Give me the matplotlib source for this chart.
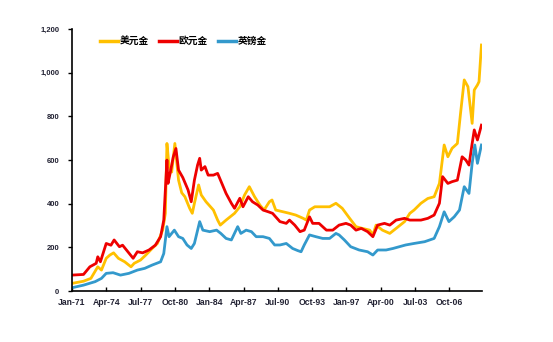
import matplotlib
matplotlib.use('Agg')
import matplotlib.pyplot as plt
from matplotlib.ticker import FixedLocator, FuncFormatter

plt.rcParams['font.family'] = ['Liberation Sans', 'Noto Sans CJK SC', 'DejaVu Sans']

# USD gold (yellow)
usdYears = [1971.0, 1972.1, 1972.8, 1973.45, 1973.8, 1974.25, 1974.6, 1974.95, 1975.4, 1976.0,
            1976.6, 1976.9, 1977.5, 1978.0, 1978.6, 1979.1, 1979.6, 1979.85, 1980.0, 1980.2,
            1980.45, 1980.75, 1981.1, 1981.4, 1981.7, 1982.15, 1982.4, 1982.6, 1983.0, 1983.25,
            1983.7, 1984.4, 1984.8, 1985.05, 1985.6, 1986.4, 1986.9, 1987.35, 1987.8, 1988.3,
            1988.8, 1989.2, 1989.7, 1989.95, 1990.3, 1991.0, 1991.6, 1992.2, 1992.9, 1993.2,
            1993.5, 1994.0, 1994.75, 1995.4, 1996.0, 1996.6, 1997.3, 1997.9, 1998.5, 1999.2,
            1999.5, 1999.8, 2000.4, 2001.1, 2001.7, 2002.5, 2003.0, 2003.4, 2004.05, 2004.7,
            2005.3, 2005.8, 2006.25, 2006.6, 2007.0, 2007.5, 2007.8, 2008.15, 2008.5, 2008.9,
            2009.1, 2009.4, 2009.55, 2009.78]
usdGold = [35, 45, 58, 111, 96, 150, 165, 175, 150, 134,
           111, 127, 142, 165, 195, 218, 280, 356, 676, 570,
           545, 676, 508, 450, 432, 379, 356, 402, 486, 440,
           409, 371, 325, 302, 325, 356, 386, 440, 478, 432,
           394, 371, 409, 417, 371, 363, 356, 348, 333, 325,
           371, 386, 386, 386, 402, 379, 333, 295, 287, 279,
           257, 302, 279, 264, 287, 318, 356, 371, 402, 424,
           432, 493, 669, 615, 654, 676, 814, 967, 936, 768,
           921, 944, 959, 1127]

# EUR gold (red)
eurYears = [1971.0, 1972.1, 1972.7, 1973.3, 1973.45, 1973.7, 1974.1, 1974.25, 1974.7, 1975.0,
            1975.5, 1975.8, 1976.8, 1977.2, 1977.7, 1978.3, 1978.9, 1979.4, 1979.7, 1980.0,
            1980.1, 1980.3, 1980.6, 1980.85, 1981.1, 1981.5, 1982.0, 1982.3, 1982.6, 1982.9,
            1983.1, 1983.25, 1983.6, 1983.9, 1984.4, 1984.8, 1985.2, 1985.6, 1986.1, 1986.4,
            1986.9, 1987.2, 1987.7, 1988.1, 1988.6, 1989.1, 1989.6, 1990.0, 1990.7, 1991.3,
            1991.6, 1992.1, 1992.6, 1993.0, 1993.5, 1993.8, 1994.4, 1995.1, 1995.7, 1996.3,
            1996.95, 1997.4, 1997.9, 1998.4, 1999.0, 1999.5, 1999.95, 2000.6, 2001.1, 2001.7,
            2002.5, 2003.0, 2003.4, 2004.05, 2004.7, 2005.3, 2005.8, 2006.1, 2006.6, 2007.0,
            2007.5, 2007.95, 2008.3, 2008.6, 2008.9, 2009.1, 2009.4, 2009.78]
eurGold = [73, 76, 111, 127, 157, 134, 195, 218, 210, 234,
           203, 210, 150, 180, 175, 188, 210, 249, 325, 600,
           493, 539, 615, 653, 554, 520, 463, 409, 508, 577,
           608, 554, 570, 531, 531, 539, 493, 447, 402, 379,
           425, 386, 432, 409, 394, 371, 363, 356, 318, 310,
           325, 302, 272, 279, 340, 310, 310, 279, 279, 302,
           310, 302, 279, 287, 272, 249, 302, 310, 302, 325,
           333, 325, 325, 325, 333, 348, 402, 524, 493, 501,
           508, 615, 600, 577, 676, 738, 692, 760]

# GBP gold (blue)
gbpYears = [1971.0, 1972.1, 1973.2, 1973.8, 1974.25, 1974.9, 1975.6, 1976.4, 1977.2, 1977.9,
            1978.6, 1979.4, 1979.7, 1980.0, 1980.2, 1980.7, 1981.1, 1981.5, 1981.9, 1982.3,
            1982.6, 1983.1, 1983.4, 1984.05, 1984.7, 1985.1, 1985.6, 1986.1, 1986.7, 1987.0,
            1987.5, 1988.0, 1988.45, 1989.1, 1989.7, 1990.2, 1990.7, 1991.3, 1991.9, 1992.4,
            1992.7, 1993.0, 1993.5, 1994.1, 1994.75, 1995.4, 1996.0, 1996.3, 1996.8, 1997.4,
            1998.2, 1999.0, 1999.5, 1999.95, 2000.75, 2001.4, 2002.0, 2002.6, 2003.4, 2004.4,
            2005.3, 2005.8, 2006.25, 2006.7, 2007.2, 2007.7, 2008.15, 2008.6, 2008.9, 2009.15,
            2009.4, 2009.78]
gbpGold = [15, 27, 43, 58, 81, 84, 73, 81, 96, 104,
           119, 134, 172, 295, 249, 279, 249, 241, 211, 195,
           218, 318, 279, 272, 279, 264, 241, 234, 295, 264,
           279, 272, 249, 249, 241, 211, 211, 218, 195, 185,
           180, 211, 257, 249, 241, 241, 264, 257, 234, 203,
           188, 180, 165, 188, 188, 195, 203, 211, 218, 226,
           241, 295, 363, 318, 340, 371, 478, 447, 585, 669,
           585, 669]

tickYears = [1971.0, 1974.25, 1977.5, 1980.75, 1984.0, 1987.25, 1990.5, 1993.75, 1997.0, 2000.25, 2003.5, 2006.75]
tickLabels = ['Jan-71', 'Apr-74', 'Jul-77', 'Oct-80', 'Jan-84', 'Apr-87', 'Jul-90', 'Oct-93', 'Jan-97', 'Apr-00', 'Jul-03', 'Oct-06']

fig = plt.figure(figsize=(5.53, 3.42), dpi=100)
ax = fig.add_axes([0.130, 0.149, 0.741, 0.766])

ax.plot(usdYears, usdGold, color='#FFC000', lw=2, label='美元金')
ax.plot(eurYears, eurGold, color='#EE0000', lw=2, label='欧元金')
ax.plot(gbpYears, gbpGold, color='#3399CC', lw=2, label='英镑金')

ax.set_xlim(1971.0, 2009.8)
ax.set_ylim(0, 1200)
ax.set_yticks([0, 200, 400, 600, 800, 1000, 1200])
ax.yaxis.set_major_formatter(FuncFormatter(lambda v, p: '{:,.0f}'.format(v)))
ax.xaxis.set_major_locator(FixedLocator(tickYears))
ax.set_xticklabels(tickLabels)

for s in ['top', 'right']:
    ax.spines[s].set_visible(False)
for s in ['left', 'bottom']:
    ax.spines[s].set_linewidth(1.2)
ax.tick_params(axis='y', direction='out', length=3, width=1, labelsize=5.5, pad=6, colors='black')
ax.tick_params(axis='x', direction='in', length=3, width=1, labelsize=6.2, pad=5)
for t in ax.get_xticklabels() + ax.get_yticklabels():
    t.set_fontweight('bold')
    t.set_color('#222233')

leg = ax.legend(loc='center left', bbox_to_anchor=(0.068, 0.954), ncol=3, frameon=False,
                borderaxespad=0, borderpad=0, handlelength=1.9, handletextpad=0.15,
                columnspacing=1.0, prop={'family': ['Noto Sans CJK SC'], 'size': 7, 'weight': 'bold'})
for l in leg.get_lines():
    l.set_linewidth(2.5)

plt.savefig('out.png', dpi=100)
